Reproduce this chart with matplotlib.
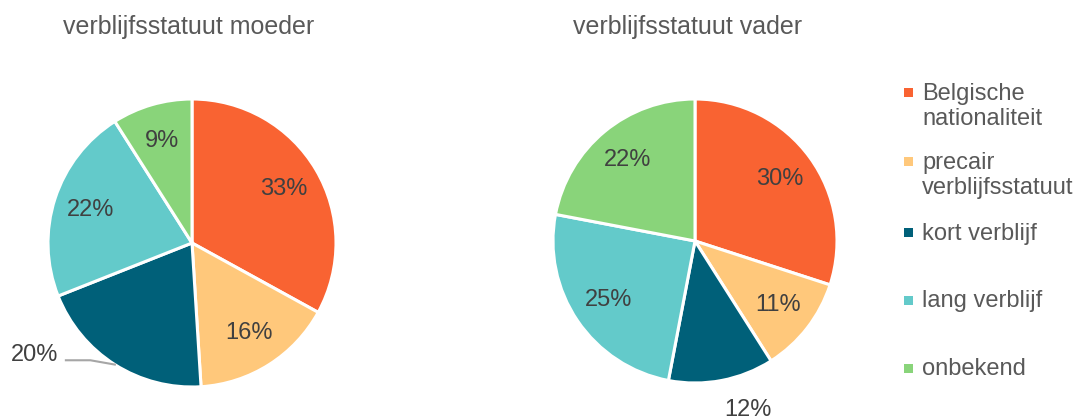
import matplotlib.pyplot as plt
import numpy as np
from matplotlib.patches import Rectangle

plt.rcParams['font.family'] = ['Liberation Sans', 'DejaVu Sans']

categories = ["Belgische\nnationaliteit", "precair\nverblijfsstatuut", "kort verblijf",
              "lang verblijf", "onbekend"]
moeder = [33, 16, 20, 22, 9]
vader = [30, 11, 12, 25, 22]
colors = ["#F96332", "#FFC87B", "#006079", "#63CACA", "#89D47A"]

W, H = 1084, 419
fig = plt.figure(figsize=(W / 100, H / 100), dpi=100)


def pie_axes(cx, cy, r):
    # axes in pixel coords (origin top-left), data coords -1..1 = radius
    return fig.add_axes([(cx - r) / W, (H - cy - r) / H, 2 * r / W, 2 * r / H])


def draw_pie(ax, vals, outside):
    wedges, texts, autotexts = ax.pie(
        vals, colors=colors, startangle=90, counterclock=False, radius=1,
        autopct=lambda p: f"{p:.0f}%", pctdistance=0.74,
        wedgeprops=dict(edgecolor="white", linewidth=2.2),
        textprops=dict(fontsize=17, color="#404040"))
    ax.set_xlim(-1, 1)
    ax.set_ylim(-1, 1)
    ax.set_aspect("equal")
    ax.axis("off")
    for i, (pos, line) in outside.items():
        autotexts[i].set_position(pos)
        autotexts[i].set_clip_on(False)
        if line:
            w = wedges[i]
            mid = np.deg2rad((w.theta1 + w.theta2) / 2)
            ex, ey = np.cos(mid), np.sin(mid)
            ax.plot([ex, ex - 0.17, ex - 0.34], [ey, ey + 0.03, ey + 0.03],
                    color="#A6A6A6", lw=1.5, clip_on=False)
    return wedges


ax1 = pie_axes(192, 243, 144)
draw_pie(ax1, moeder, {2: ((-1.09, -0.78), True)})
ax2 = pie_axes(695, 241, 142)
draw_pie(ax2, vader, {2: ((0.37, -1.19), False)})

fig.text(189 / W, 1 - 27 / H, "verblijfsstatuut moeder", fontsize=18, color="#595959",
         ha="center", va="center")
fig.text(688 / W, 1 - 27 / H, "verblijfsstatuut vader", fontsize=18, color="#595959",
         ha="center", va="center")

# legend
leg_y = [93, 162, 233, 300, 368]
for lab, c, y in zip(categories, colors, leg_y):
    fig.add_artist(Rectangle((904 / W, (H - y - 4.5) / H), 9 / W, 9 / H,
                             transform=fig.transFigure, facecolor=c, edgecolor="none"))
    fig.text(922 / W, 1 - (y - 10) / H, lab, fontsize=17, color="#595959",
             ha="left", va="top", linespacing=1.15)

fig.savefig("out.png", dpi=100)
